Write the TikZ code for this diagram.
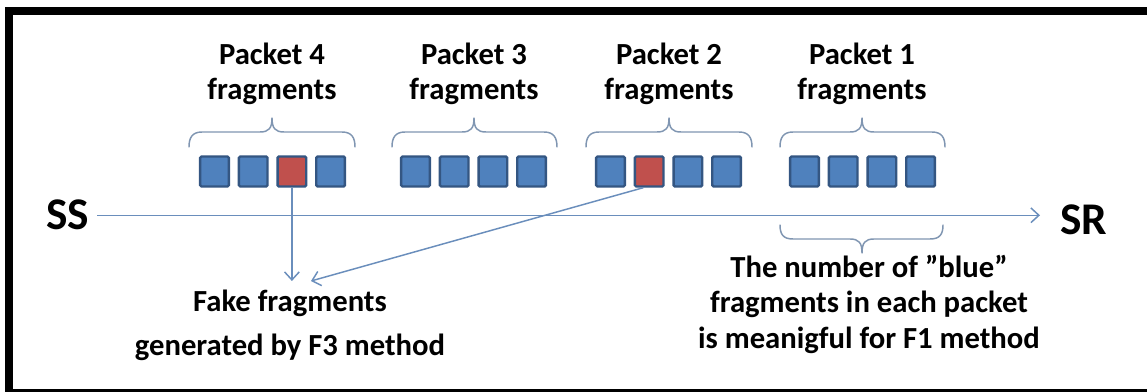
\documentclass[tikz,border=0pt]{standalone}
\usepackage{fontspec}
\setmainfont{Carlito}
\usetikzlibrary{arrows.meta}
\definecolor{fragblue}{RGB}{79,129,189}
\definecolor{fragedge}{RGB}{52,86,130}
\definecolor{fragred}{RGB}{192,80,77}
\definecolor{linkblue}{RGB}{106,142,188}
\definecolor{bracecol}{RGB}{128,150,178}
% curly brace opening downwards: left end, middle, right end
\newcommand{\bracedown}[3]{%
  \draw[brace] (#1,147) .. controls (#1,138) and (#1+3,132) .. (#1+13,132)
    -- (#2-12,132) .. controls (#2-3,132) and (#2,128) .. (#2,118)
    .. controls (#2,128) and (#2+3,132) .. (#2+12,132)
    -- (#3-13,132) .. controls (#3-3,132) and (#3,138) .. (#3,147);}
% curly brace opening upwards
\newcommand{\braceup}[3]{%
  \draw[brace] (#1,225) .. controls (#1,234) and (#1+3,239) .. (#1+13,239)
    -- (#2-12,239) .. controls (#2-3,239) and (#2,243) .. (#2,253)
    .. controls (#2,243) and (#2+3,239) .. (#2+12,239)
    -- (#3-13,239) .. controls (#3-3,239) and (#3,234) .. (#3,225);}
\begin{document}
\begin{tikzpicture}[x=0.75pt,y=-0.75pt,
  frag/.style={draw=fragedge, line width=1.8pt, rounded corners=1pt,
    minimum width=21.5pt, minimum height=22.5pt, inner sep=0pt},
  pktlabel/.style={font=\bfseries\fontsize{23}{26.5}\selectfont, align=center,
    inner sep=0pt, anchor=base},
  notetext/.style={font=\bfseries\fontsize{23}{27}\selectfont, align=center,
    inner sep=0pt, anchor=base},
  endpoint/.style={font=\bfseries\fontsize{34}{40}\selectfont, inner sep=0pt,
    anchor=base west},
  link/.style={draw=linkblue, line width=1.1pt,
    -{Straight Barb[length=6pt,width=11pt]}},
  brace/.style={draw=bracecol, line width=1.1pt, line cap=round, line join=round}
]
\useasboundingbox (0,0) rectangle (1147,392);
\clip (0,0) rectangle (1147,392);
\fill[white] (0,0) rectangle (1147,392);
% outer frame
\draw[line width=6pt] (9,11) rectangle (1160,393);

% fragments of the four packets (red = fake fragment)
\foreach \p/\s/\r in {4/199/3, 3/400/0, 2/595/2, 1/789/0}{
  \foreach \k in {1,...,4}{
    \ifnum\k=\r \def\fc{fragred}\else\def\fc{fragblue}\fi
    \node[frag, fill=\fc] (p\p-\k) at ({\s+15.5+(\k-1)*38.7},171.5) {};
  }
}

% packet labels (anchored at the baseline of their last line)
\node[pktlabel] (lab4) at (272,100) {Packet 4\\fragments};
\node[pktlabel] (lab3) at (474,100) {Packet 3\\fragments};
\node[pktlabel] (lab2) at (669,100) {Packet 2\\fragments};
\node[pktlabel] (lab1) at (862,100) {Packet 1\\fragments};

% braces grouping the fragments
\bracedown{189}{272}{355}
\bracedown{392}{474}{557}
\bracedown{586}{669}{752}
\bracedown{780}{862}{945}
\braceup{780}{862}{943}

% sender and receiver with the time axis
\node[endpoint] (ss) at (46,230) {SS};
\node[endpoint] (sr) at (1060,235) {SR};
\draw[link, shorten <=6pt, shorten >=15pt] (ss.east) -- (ss.east -| sr.west);

% fake fragment pointers
\coordinate (fakeV) at (292,281);
\coordinate (fakeD) at (311,281);
\draw[link] (p4-3.south) -- (p4-3.south |- fakeV);
\draw[link] (p2-2.-110) -- (fakeD);

% explanations
\node[notetext] (fake) at (290,355) {Fake fragments\\[6pt]generated by F3 method};
\node[notetext] (blue) at (869,349)
  {The number of ”blue”\\fragments in each packet\\is meanigful for F1 method};
\end{tikzpicture}
\end{document}
